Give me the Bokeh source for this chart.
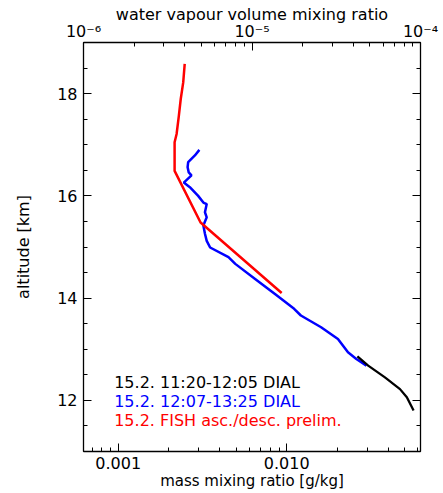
from bokeh.plotting import figure
from bokeh.models import (Range1d, LogAxis, LinearAxis, FixedTicker, SingleIntervalTicker,
                          Label, LogScale, NumeralTickFormatter, CustomJSTickFormatter)
from bokeh.embed import file_html
from bokeh.resources import INLINE

# ---------------- data (mass mixing ratio in g/kg, altitude in km) ----------------
black_alt = [12.86, 12.68, 12.45, 12.22, 12.06, 11.80]
black_mmr = [0.02626, 0.03043, 0.03826, 0.04700, 0.05161, 0.05659]

blue_alt = [16.90, 16.79, 16.66, 16.56, 16.46, 16.40, 16.26, 16.17, 16.00, 15.87,
            15.84, 15.68, 15.58, 15.42, 15.26, 15.12, 14.99, 14.80, 14.67, 14.37,
            14.07, 13.79, 13.66, 13.43, 13.20, 12.94, 12.81, 12.68]
blue_mmr = [0.00303, 0.00285, 0.00260, 0.00258, 0.00262, 0.00272, 0.00245, 0.00266,
            0.00298, 0.00320, 0.00335, 0.00327, 0.00335, 0.00320, 0.00327, 0.00335,
            0.00351, 0.00451, 0.00495, 0.00652, 0.00859, 0.01106, 0.01213, 0.01599,
            0.02013, 0.02309, 0.02588, 0.02972]

red_alt = [18.58, 18.22, 17.90, 17.57, 17.21, 17.05, 16.49, 15.48, 14.10]
red_mmr = [0.00248, 0.00243, 0.00235, 0.00229, 0.00222, 0.00216, 0.00216, 0.00308, 0.00933]

legend_texts = ["15.2. 11:20-12:05 DIAL", "15.2. 12:07-13:25 DIAL", "15.2. FISH asc./desc. prelim."]
legend_colors = ["black", "#0000ff", "#ff0000"]
legend_y = [12.34, 11.97, 11.60]
legend_x = 0.000946

bottom_ticks = [0.001, 0.01]
bottom_range = (0.000622, 0.0622)
top_ticks = [1e-6, 1e-5, 1e-4]
top_tick_labels = ["10\u207b\u2076", "10\u207b\u2075", "10\u207b\u2074"]
top_range = (1e-6, 1e-4)
y_range = (11, 19)

FONT = "DejaVu Sans"

p = figure(width=443, height=493, x_axis_type="log",
           x_range=Range1d(*bottom_range), y_range=Range1d(*y_range),
           output_backend="svg", toolbar_location=None,
           min_border_left=83, min_border_right=23, min_border_top=42, min_border_bottom=42)
p.grid.visible = False
p.outline_line_color = "black"
p.background_fill_color = "white"
p.border_fill_color = "white"


def style_axis(ax, label_size="16px"):
    ax.major_tick_in = 8
    ax.major_tick_out = 0
    ax.minor_tick_in = 4
    ax.minor_tick_out = 0
    ax.axis_line_color = "black"
    ax.axis_line_width = 1.3
    ax.major_tick_line_color = "black"
    ax.minor_tick_line_color = "black"
    ax.major_label_text_font = FONT
    ax.major_label_text_font_size = label_size
    ax.major_label_text_color = "black"
    ax.axis_label_text_font = FONT
    ax.axis_label_text_font_style = "normal"
    ax.axis_label_text_font_size = "16px"
    ax.axis_label_text_color = "black"


bottom_minor = [k * 10.0 ** e for e in (-4, -3, -2) for k in range(2, 10)
                if bottom_range[0] <= k * 10.0 ** e <= bottom_range[1]]
xb = p.xaxis[0]
xb.ticker = FixedTicker(ticks=bottom_ticks, minor_ticks=bottom_minor)
xb.formatter = NumeralTickFormatter(format="0.000")
xb.axis_label = "mass mixing ratio [g/kg]"
style_axis(xb, "16px")
xb.axis_label_text_font_size = "15px"
xb.major_label_standoff = 5
xb.axis_label_standoff = 0

yl = p.yaxis[0]
yl.ticker = SingleIntervalTicker(interval=2, num_minor_ticks=4)
yl.axis_label = "altitude [km]"
style_axis(yl)
yl.major_label_standoff = 6
yl.axis_label_standoff = 21

# top axis: volume mixing ratio
p.extra_x_ranges = {"vmr": Range1d(*top_range)}
p.extra_x_scales = {"vmr": LogScale()}
top_minor = [k * 10.0 ** e for e in (-6, -5) for k in range(2, 10)]
xt = LogAxis(x_range_name="vmr", ticker=FixedTicker(ticks=top_ticks, minor_ticks=top_minor),
             axis_label="water vapour volume mixing ratio",
             major_label_overrides=dict(zip(top_ticks, top_tick_labels)))
style_axis(xt)
xt.major_label_standoff = 2
xt.axis_label_standoff = -5
p.add_layout(xt, "above")

# right axis: ticks only
yr = LinearAxis(ticker=SingleIntervalTicker(interval=2, num_minor_ticks=4),
                formatter=CustomJSTickFormatter(code="return '';"))
style_axis(yr)
yr.major_label_standoff = 0
p.add_layout(yr, "right")

# profiles
p.line(blue_mmr, blue_alt, line_color="#0000ff", line_width=2.5)
p.line(black_mmr, black_alt, line_color="black", line_width=2.3)
p.line(red_mmr, red_alt, line_color="#ff0000", line_width=2.5)

for t, c, yy in zip(legend_texts, legend_colors, legend_y):
    p.add_layout(Label(x=legend_x, y=yy, text=t, text_color=c, text_font=FONT,
                       text_font_size="16px", text_baseline="middle", text_align="left"))

open("out.html", "w").write(file_html(p, INLINE))
